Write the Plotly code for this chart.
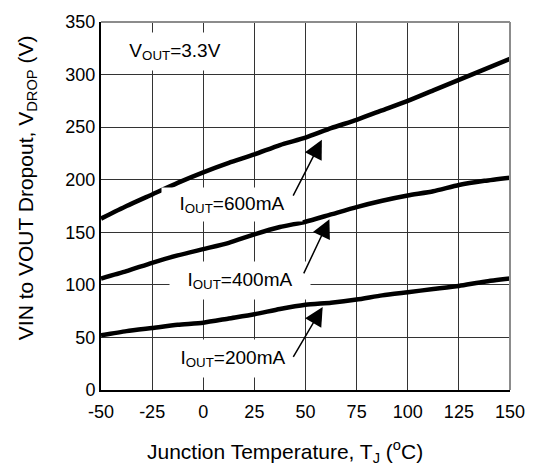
import plotly.graph_objects as go

temps = [-50, -37.5, -25, -12.5, 0, 12.5, 25, 37.5, 50, 62.5, 75, 87.5, 100, 112.5, 125, 137.5, 150]
i600 = [163, 175, 186, 197, 207, 216, 224, 233, 240, 249, 257, 266, 275, 285, 295, 305, 315]
i400 = [106, 113, 121, 128, 134, 140, 148, 155, 160, 167, 174, 180, 185, 189, 195, 199, 202]
i200 = [52, 56, 59, 62, 64, 68, 72, 77, 81, 83, 86, 90, 93, 96, 99, 103, 106]

xticks = [-50, -25, 0, 25, 50, 75, 100, 125, 150]
yticks = [0, 50, 100, 150, 200, 250, 300, 350]

labels = ["I<sub>OUT</sub>=600mA", "I<sub>OUT</sub>=400mA", "I<sub>OUT</sub>=200mA"]
label_pos = [(14.0, 176.5), (17.8, 104.3), (14.4, 29.5)]
label_h = [29, 33, 33]
arrow_tail = [(43.6, 183.4), (48.8, 109.5), (43.6, 30.0)]
arrow_head = [(58.0, 238.0), (61.7, 162.5), (58.4, 79.0)]

FONT = "Arial, Liberation Sans, sans-serif"

fig = go.Figure()
for ys in (i600, i400, i200):
    fig.add_trace(go.Scatter(x=temps, y=ys, mode="lines",
                             line=dict(color="black", width=4.5, shape="spline", smoothing=0.6),
                             showlegend=False, hoverinfo="skip"))

annotations = []
for txt, (lx, ly), h in zip(labels, label_pos, label_h):
    annotations.append(dict(x=lx, y=ly, xref="x", yref="y", text=txt, showarrow=False,
                            bgcolor="white", width=136, height=h, borderpad=2,
                            font=dict(family=FONT, size=19, color="black")))
for (tx, ty), (hx, hy) in zip(arrow_tail, arrow_head):
    annotations.append(dict(x=hx, y=hy, ax=tx, ay=ty, xref="x", yref="y", axref="x", ayref="y",
                            text="", showarrow=True, arrowhead=2, arrowsize=2.5, arrowwidth=1.5,
                            arrowcolor="black", standoff=0, startstandoff=0))
annotations.append(dict(x=-13.7, y=322, xref="x", yref="y", text="V<sub>OUT</sub>=3.3V",
                        showarrow=False, bgcolor="white", width=104, height=33, borderpad=2,
                        font=dict(family=FONT, size=19, color="black")))
# axis titles
annotations.append(dict(x=0.451, y=-0.168, xref="paper", yref="paper",
                        text="Junction Temperature, T<sub>J</sub> (<sup>o</sup>C)",
                        showarrow=False, xanchor="center", yanchor="middle",
                        font=dict(family=FONT, size=21, color="black")))
annotations.append(dict(x=-0.181, y=0.551, xref="paper", yref="paper", textangle=-90,
                        text="VIN to VOUT Dropout, V<sub>DROP</sub> (V)",
                        showarrow=False, xanchor="center", yanchor="middle",
                        font=dict(family=FONT, size=21, color="black")))

fig.update_layout(
    width=537, height=468,
    margin=dict(l=101, r=17, t=16, b=78),
    paper_bgcolor="white", plot_bgcolor="white",
    font=dict(family=FONT, size=18, color="black"),
    annotations=annotations,
    shapes=[
        dict(type="line", xref="paper", yref="paper", x0=0, x1=1, y0=1, y1=1,
             line=dict(color="#8c8c8c", width=2)),
        dict(type="line", xref="paper", yref="paper", x0=1, x1=1, y0=0, y1=1,
             line=dict(color="#8c8c8c", width=2)),
    ],
    xaxis=dict(range=[-50, 150], tickvals=xticks, ticktext=[str(v) for v in xticks],
               showgrid=True, gridcolor="#333333", gridwidth=1, zeroline=False,
               showline=True, linecolor="black", linewidth=2, ticks="outside",
               ticklen=4, tickcolor="white",
               tickfont=dict(family=FONT, size=18)),
    yaxis=dict(range=[0, 350], tickvals=yticks, ticktext=[str(v) for v in yticks],
               showgrid=True, gridcolor="#333333", gridwidth=1, zeroline=False,
               showline=True, linecolor="black", linewidth=2, ticks="",
               tickfont=dict(family=FONT, size=18)),
)

fig.write_html("out.html")
